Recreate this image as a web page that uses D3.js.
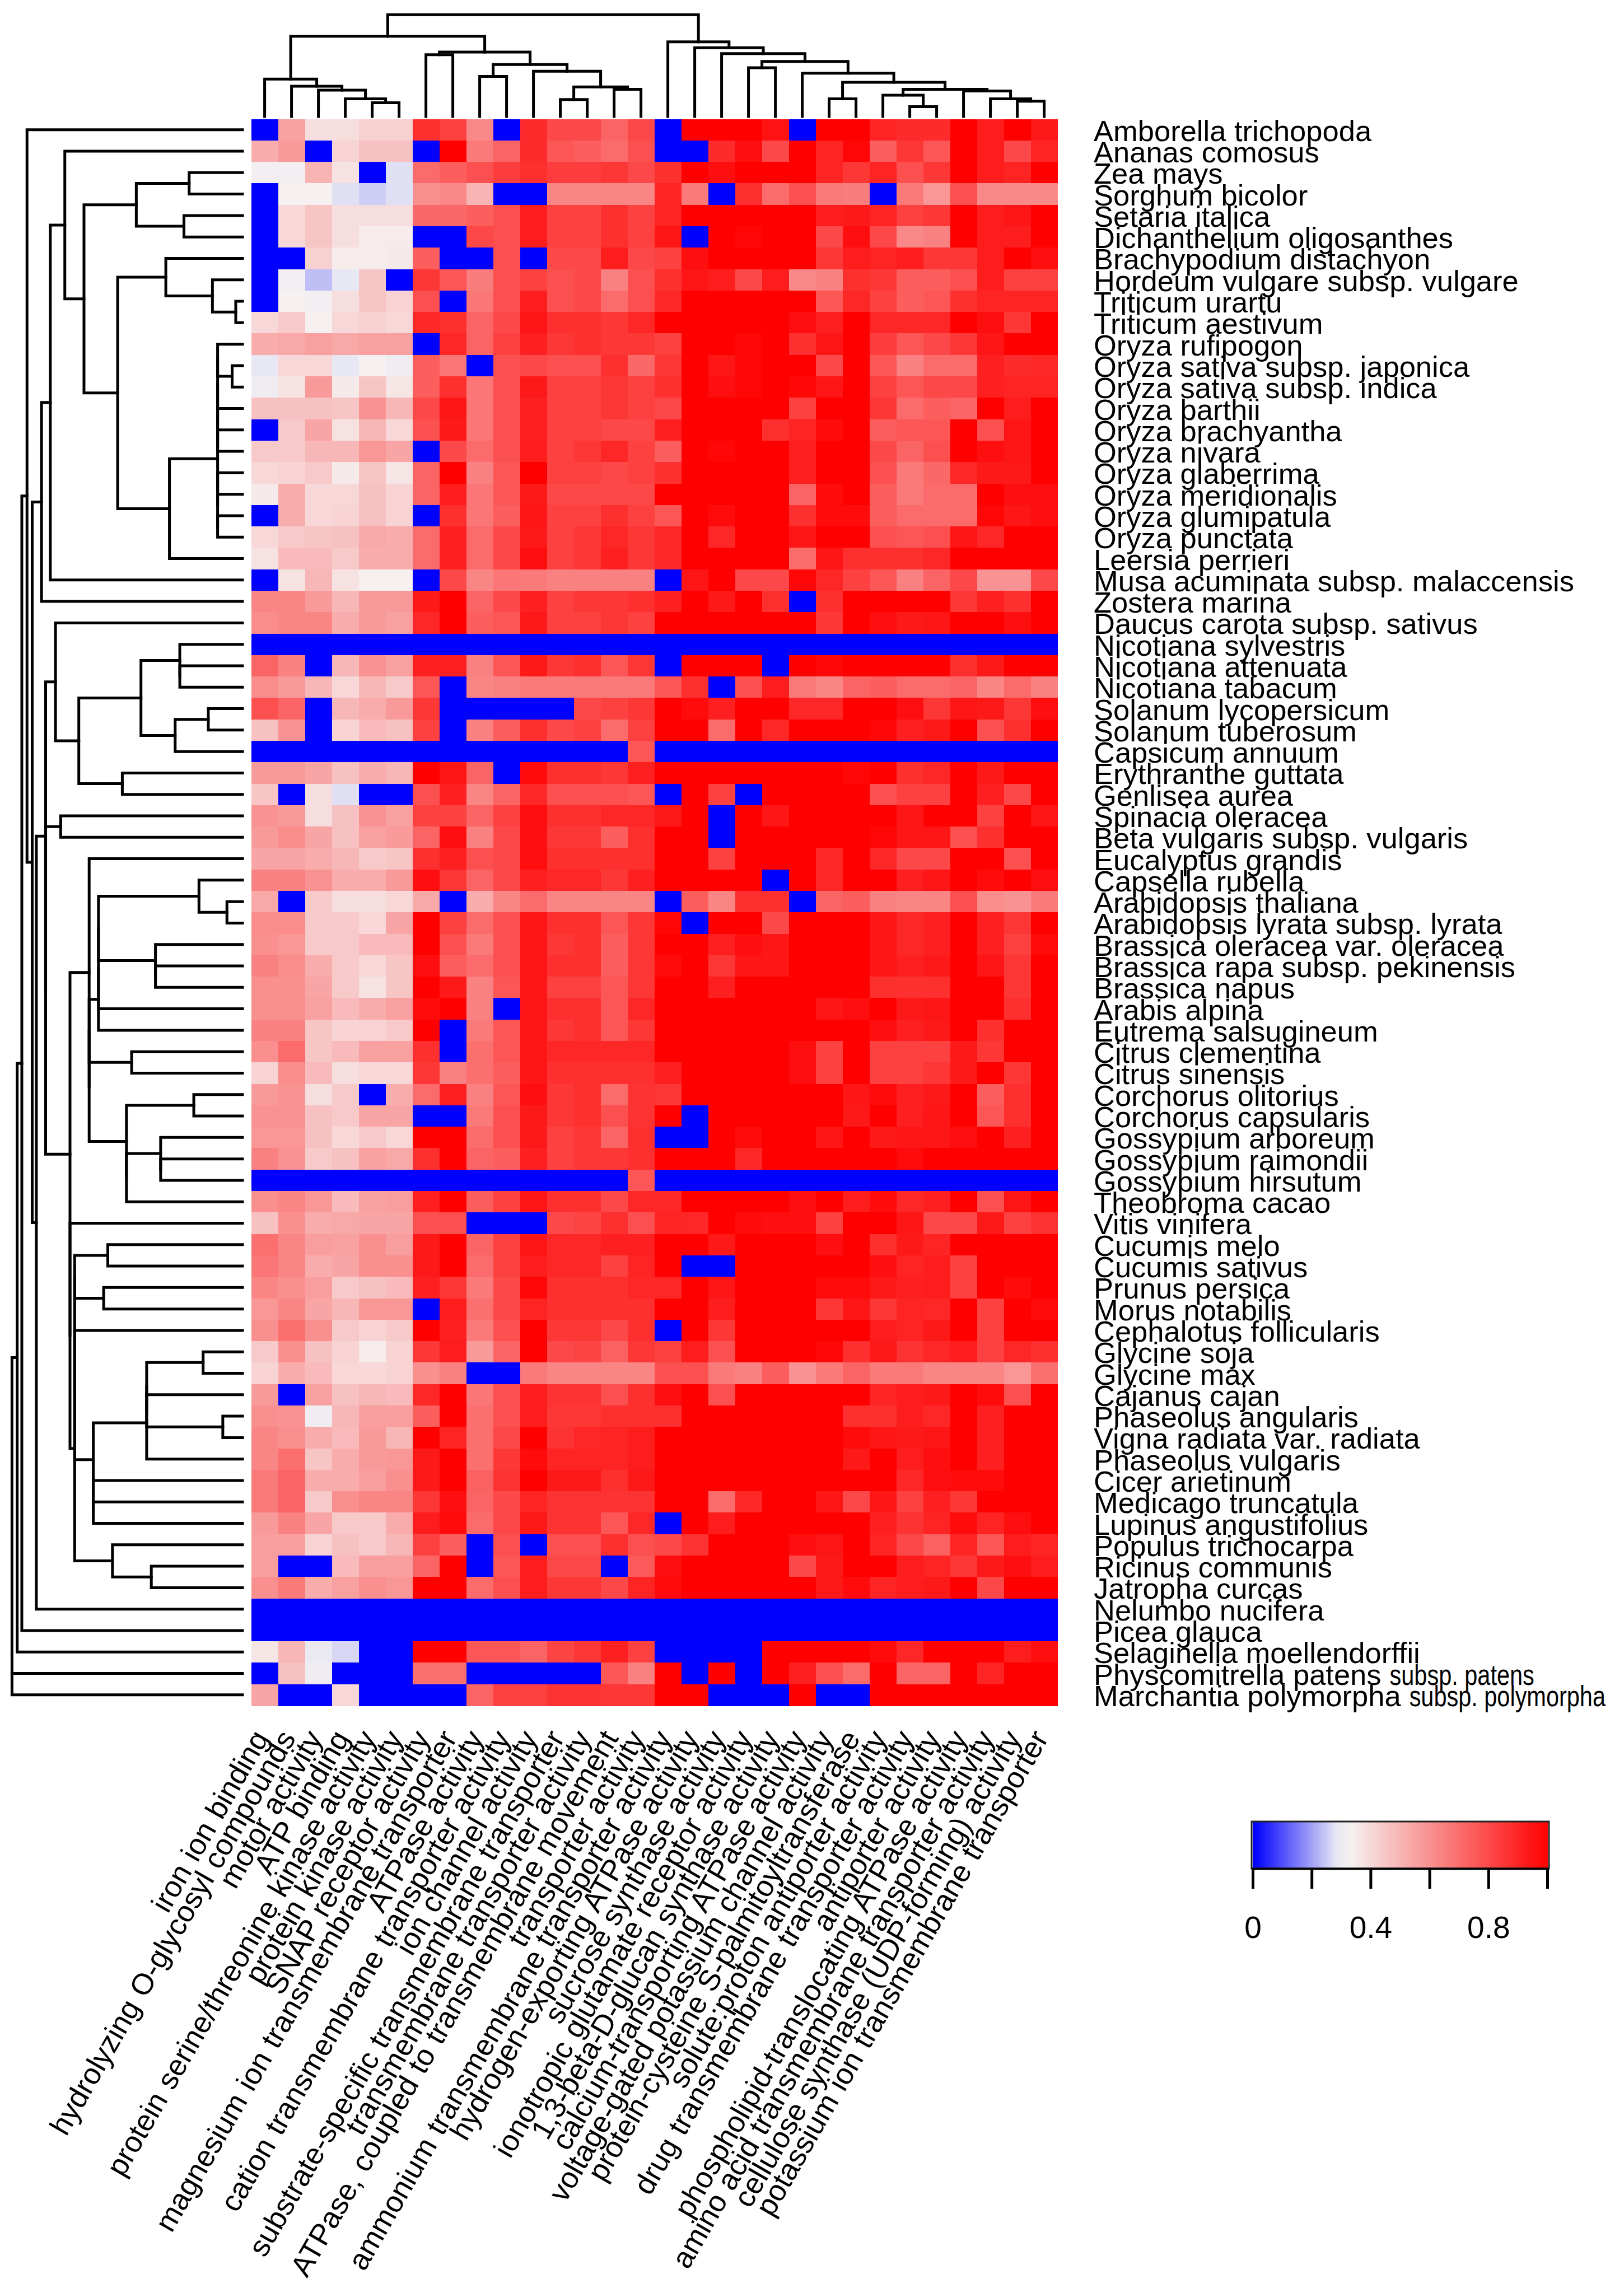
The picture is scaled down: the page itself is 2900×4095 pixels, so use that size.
<!DOCTYPE html>
<html><head><meta charset="utf-8">
<script src="https://cdnjs.cloudflare.com/ajax/libs/d3/7.8.5/d3.min.js"></script>
<style>html,body{margin:0;padding:0;background:#fff}svg{display:block}text{font-family:"Liberation Sans",Arial,sans-serif;fill:#000}</style>
</head><body><div id="chart"></div>
<script>
const species = ["Amborella trichopoda","Ananas comosus","Zea mays","Sorghum bicolor","Setaria italica","Dichanthelium oligosanthes","Brachypodium distachyon","Hordeum vulgare subsp. vulgare","Triticum urartu","Triticum aestivum","Oryza rufipogon","Oryza sativa subsp. japonica","Oryza sativa subsp. indica","Oryza barthii","Oryza brachyantha","Oryza nivara","Oryza glaberrima","Oryza meridionalis","Oryza glumipatula","Oryza punctata","Leersia perrieri","Musa acuminata subsp. malaccensis","Zostera marina","Daucus carota subsp. sativus","Nicotiana sylvestris","Nicotiana attenuata","Nicotiana tabacum","Solanum lycopersicum","Solanum tuberosum","Capsicum annuum","Erythranthe guttata","Genlisea aurea","Spinacia oleracea","Beta vulgaris subsp. vulgaris","Eucalyptus grandis","Capsella rubella","Arabidopsis thaliana","Arabidopsis lyrata subsp. lyrata","Brassica oleracea var. oleracea","Brassica rapa subsp. pekinensis","Brassica napus","Arabis alpina","Eutrema salsugineum","Citrus clementina","Citrus sinensis","Corchorus olitorius","Corchorus capsularis","Gossypium arboreum","Gossypium raimondii","Gossypium hirsutum","Theobroma cacao","Vitis vinifera","Cucumis melo","Cucumis sativus","Prunus persica","Morus notabilis","Cephalotus follicularis","Glycine soja","Glycine max","Cajanus cajan","Phaseolus angularis","Vigna radiata var. radiata","Phaseolus vulgaris","Cicer arietinum","Medicago truncatula","Lupinus angustifolius","Populus trichocarpa","Ricinus communis","Jatropha curcas","Nelumbo nucifera","Picea glauca","Selaginella moellendorffii","Physcomitrella patens subsp. patens","Marchantia polymorpha subsp. polymorpha"];
const condensedSuffix = {"Physcomitrella patens subsp. patens":"subsp. patens","Marchantia polymorpha subsp. polymorpha":"subsp. polymorpha"};
const functions = ["iron ion binding","hydrolyzing O-glycosyl compounds","motor activity","ATP binding","protein serine/threonine kinase activity","protein kinase activity","SNAP receptor activity","magnesium ion transmembrane transporter","ATPase activity","cation transmembrane transporter activity","ion channel activity","substrate-specific transmembrane transporter","transmembrane transporter activity","ATPase, coupled to transmembrane movement","transporter activity","ammonium transmembrane transporter activity","hydrogen-exporting ATPase activity","sucrose synthase activity","ionotropic glutamate receptor activity","1,3-beta-D-glucan synthase activity","calcium-transporting ATPase activity","voltage-gated potassium channel activity","protein-cysteine S-palmitoyltransferase","solute:proton antiporter activity","drug transmembrane transporter activity","antiporter activity","phospholipid-translocating ATPase activity","amino acid transmembrane transporter activity","cellulose synthase (UDP-forming) activity","potassium ion transmembrane transporter"];
const percent = [
[0,55,38,38,42,42,87,82,62,0,88,80,80,72,80,0,100,100,100,95,0,100,100,90,88,88,100,92,100,93],
[52,57,0,41,46,46,0,100,66,72,88,76,74,70,78,0,0,88,96,80,100,90,98,74,85,76,100,92,80,90],
[32,32,50,37,0,27,70,74,78,83,87,83,83,85,80,87,100,96,100,100,100,90,85,90,78,85,100,92,90,100],
[0,33,33,27,25,27,60,62,50,0,0,63,63,63,63,90,66,0,87,70,78,66,65,0,66,58,78,62,62,62],
[0,40,45,38,38,38,71,71,74,78,92,82,82,87,82,90,100,100,100,100,100,92,93,90,82,85,100,92,94,100],
[0,40,45,38,34,34,0,0,80,78,92,82,82,87,82,94,0,100,98,100,100,80,96,80,62,64,100,92,92,100],
[0,0,42,34,34,35,74,0,0,78,0,80,80,92,80,82,96,100,100,100,100,85,92,90,92,85,85,92,100,96],
[0,32,23,28,45,0,85,76,65,78,82,78,80,64,78,87,94,92,80,92,62,64,87,85,74,74,78,92,82,82],
[0,33,32,38,45,41,78,0,67,78,92,78,80,70,78,89,100,100,100,100,100,76,89,82,74,76,87,90,90,90],
[40,44,33,40,42,40,89,87,72,80,94,87,87,85,89,100,100,100,100,100,96,91,100,89,89,89,100,96,85,100],
[52,53,55,53,55,55,0,89,72,82,91,85,87,85,85,82,100,100,98,100,87,94,100,83,76,80,85,94,100,100],
[28,40,40,28,33,31,74,67,0,78,80,78,78,87,71,85,100,94,98,100,100,80,100,76,64,70,70,91,88,89],
[31,37,57,35,45,36,74,87,67,78,93,82,82,85,82,87,100,96,98,100,98,94,100,82,76,80,80,91,90,90],
[46,46,46,45,59,49,80,94,67,78,91,82,82,85,82,80,100,100,100,100,82,100,100,85,70,74,72,100,92,100],
[0,44,54,37,49,40,78,93,67,78,91,82,82,80,80,91,100,100,100,87,90,97,100,74,76,76,100,78,94,100],
[44,44,49,49,58,54,0,80,70,78,92,82,85,89,82,74,100,98,100,100,91,100,100,80,72,78,100,96,94,100],
[40,41,44,35,45,36,72,100,64,76,100,82,82,80,82,87,100,100,100,100,91,100,100,78,66,71,89,93,93,100],
[35,52,40,40,46,41,72,92,67,76,93,80,80,80,80,100,100,100,100,100,72,97,100,74,66,70,70,100,96,96],
[0,52,40,41,46,41,0,87,67,74,94,82,82,87,82,76,100,97,100,100,87,97,97,74,70,70,70,98,94,96],
[40,44,45,46,53,52,70,91,70,80,93,82,85,89,85,89,100,89,100,100,94,100,100,78,76,78,94,89,100,100],
[37,48,48,44,52,52,70,91,70,80,96,82,85,91,85,89,100,100,100,100,70,94,87,87,87,89,100,100,100,100],
[0,37,49,37,33,33,0,80,63,67,66,64,64,64,64,0,94,100,80,80,98,89,82,76,64,72,80,59,59,80],
[63,63,57,49,57,57,93,100,72,80,91,82,85,85,87,91,100,93,100,87,0,87,100,100,100,100,85,91,87,100],
[61,63,63,52,57,55,89,100,74,76,93,82,82,85,82,100,100,100,100,100,100,85,100,96,93,94,100,100,96,100],
[0,0,0,0,0,0,0,0,0,0,0,0,0,0,0,0,0,0,0,0,0,0,0,0,0,0,0,0,0,0],
[72,64,0,49,59,55,91,91,64,76,93,85,87,76,85,0,100,100,100,0,100,98,100,100,100,100,87,93,100,100],
[61,57,49,40,49,44,76,0,63,64,66,66,66,66,66,76,87,0,78,92,66,63,72,74,70,70,72,63,70,64],
[78,72,0,49,52,57,85,0,0,0,0,0,80,82,85,100,97,91,100,100,89,89,100,100,96,85,94,93,85,96],
[46,59,0,41,48,46,82,0,64,74,87,80,82,70,82,100,100,70,100,89,100,100,100,98,91,93,100,78,87,100],
[0,0,0,0,0,0,0,0,0,0,0,0,0,0,76,0,0,0,0,0,0,0,0,0,0,0,0,0,0,0],
[57,57,54,46,52,49,100,94,72,0,97,87,87,85,91,100,100,100,100,100,100,100,98,100,87,89,100,93,100,100],
[45,0,38,27,0,0,78,91,63,72,89,78,78,78,76,0,100,82,0,100,100,100,100,78,82,82,100,91,80,100],
[59,57,38,46,59,55,82,82,72,82,96,87,87,89,89,93,100,0,100,94,100,100,100,100,94,100,100,82,100,94],
[57,61,54,46,55,57,72,96,64,80,96,85,85,74,87,100,100,0,100,100,100,100,100,98,94,94,78,87,100,100],
[54,54,52,49,44,45,87,91,78,80,96,87,87,87,87,100,100,82,100,100,100,89,100,89,80,80,100,100,78,100],
[64,64,59,52,52,57,96,85,72,80,91,89,89,85,91,100,100,100,100,0,100,89,100,100,91,94,100,97,100,96],
[53,0,44,38,38,40,53,0,52,63,70,63,63,63,63,0,74,63,87,87,0,72,74,64,63,63,78,61,59,66],
[61,61,44,44,40,54,100,82,70,78,94,87,87,76,85,98,0,100,100,80,100,100,100,94,89,91,100,91,85,100],
[60,58,44,44,48,48,100,78,66,78,94,85,87,74,85,100,100,91,96,94,100,100,100,94,89,91,100,91,82,97],
[64,61,52,44,40,45,96,74,70,78,94,87,87,74,85,97,100,85,94,94,100,100,100,94,91,93,100,94,85,100],
[60,60,54,44,37,45,100,93,64,76,94,82,82,76,85,100,100,91,100,100,100,100,100,87,87,87,100,100,85,100],
[60,60,55,48,52,55,97,100,64,0,94,87,87,76,89,100,100,100,100,100,100,94,96,100,93,94,100,100,87,100],
[64,64,45,41,41,44,100,0,66,76,94,85,87,76,85,100,100,100,100,100,100,100,100,96,91,93,100,87,100,100],
[60,70,45,48,55,55,87,0,69,76,94,89,89,89,89,100,100,100,100,100,96,82,100,82,82,82,93,85,100,100],
[41,61,48,38,40,40,85,64,69,74,94,87,87,87,87,91,100,100,100,100,96,82,100,82,82,85,93,100,85,100],
[57,59,38,44,0,52,70,91,64,76,96,85,87,70,86,85,100,100,100,100,100,100,94,97,91,93,100,74,87,100],
[59,59,46,44,54,54,0,0,66,78,93,85,87,78,86,100,0,100,100,100,100,100,93,100,91,94,100,76,87,100],
[58,58,46,40,44,40,100,100,70,78,93,82,85,72,87,0,0,100,97,100,100,94,100,93,94,94,96,100,91,100],
[64,59,44,46,55,53,87,100,72,74,91,82,85,85,87,100,100,100,89,100,100,100,100,100,97,100,100,100,100,100],
[0,0,0,0,0,0,0,0,0,0,0,0,0,0,76,0,0,0,0,0,0,0,0,0,0,0,0,0,0,0],
[60,63,58,48,55,56,91,100,74,82,94,87,87,80,89,89,100,100,100,100,96,100,92,97,89,91,100,78,94,100],
[46,60,52,53,54,54,78,78,0,0,0,80,81,87,78,90,89,100,97,96,96,82,100,100,94,80,80,93,82,86],
[69,63,56,55,60,56,93,100,72,82,94,89,89,91,91,100,100,93,100,100,100,96,100,87,93,90,100,100,100,100],
[67,63,52,54,60,60,93,100,70,82,92,89,89,82,90,100,0,0,100,100,100,100,100,96,90,92,82,100,100,100],
[63,60,56,44,46,48,91,85,66,80,98,87,87,87,89,89,100,94,100,100,100,97,97,93,91,92,82,100,97,100],
[58,63,54,49,58,58,0,92,69,80,90,87,87,87,87,100,100,92,100,100,100,85,94,85,90,89,100,82,100,97],
[60,69,60,44,41,44,100,91,66,78,100,85,85,80,87,0,100,85,100,100,100,100,100,92,90,93,100,82,100,100],
[44,60,46,41,34,41,85,92,57,72,100,80,81,73,85,82,92,78,100,100,100,98,87,93,86,89,92,82,89,87],
[41,52,48,40,40,41,60,64,0,0,66,63,63,63,63,78,78,66,64,74,59,66,72,66,66,63,63,63,58,69],
[57,0,55,46,49,48,89,100,67,78,92,86,86,78,87,96,100,78,100,100,100,100,100,90,92,93,100,97,78,100],
[60,59,31,49,56,56,74,100,69,78,92,85,85,87,87,87,100,100,100,100,100,100,87,87,92,89,100,91,100,100],
[63,60,52,48,57,49,100,90,69,80,100,86,89,90,92,100,100,100,100,100,100,100,97,94,93,94,100,91,100,100],
[63,69,45,52,57,58,93,100,69,85,97,90,90,90,92,100,100,100,100,100,100,100,93,100,92,96,100,91,100,100],
[66,72,52,52,56,60,93,100,73,86,100,93,93,87,93,100,100,100,100,100,100,100,100,100,89,96,97,97,100,100],
[66,72,44,60,63,63,85,96,72,80,90,86,86,86,86,100,100,70,89,100,100,94,80,94,82,91,85,100,100,100],
[57,64,54,44,44,52,92,97,70,80,93,86,86,76,89,0,100,92,100,100,100,100,100,91,86,90,97,90,96,100],
[56,56,41,46,44,49,82,74,0,78,0,78,78,87,78,80,86,100,100,100,96,94,100,90,80,73,90,76,92,90],
[56,0,0,48,56,56,72,100,0,76,92,80,80,0,75,96,100,100,100,100,80,93,100,100,92,90,85,93,96,92],
[60,66,52,55,60,58,100,100,70,78,92,85,85,80,90,97,100,100,100,100,100,93,97,90,92,93,100,80,100,100],
[0,0,0,0,0,0,0,0,0,0,0,0,0,0,0,0,0,0,0,0,0,0,0,0,0,0,0,0,0,0],
[0,0,0,0,0,0,0,0,0,0,0,0,0,0,0,0,0,0,0,0,0,0,0,0,0,0,0,0,0,0],
[36,49,29,26,0,0,100,100,76,76,72,81,85,91,82,0,0,0,0,100,100,100,100,97,89,100,100,100,92,96],
[0,46,31,0,0,0,69,69,0,0,0,0,0,76,64,100,0,100,0,100,91,78,70,100,72,72,100,90,100,100],
[54,0,0,40,0,0,0,0,72,82,82,86,86,85,85,100,100,0,0,0,100,0,0,100,100,100,100,100,100,100]
];
/* dendrograms: [mergeHeight, child, child, ...]; a bare number is a row/column index */
const rice = [48,[48,[48,[48,10,[20,11,12]],13],[48,14,15]],[48,[48,16,17],[48,18,19]]];
const monocots = [343,1,[306,[205,[103,2,3],[113,4,5]],[241,[148,6,[58,7,[13,8,9]]],[141,rice,20]]]];
const solanids = [361,23,[316,[196,[121,24,[121,25,26]],[130,[66,27,28],29]],[232,30,31]]];
const rosidsA = [278,[278,[278,[84,35,[30,36,37]],[168,38,[168,39,40]]],41],42];
const malvids = [296,34,[296,[296,rosidsA,[214,43,44]],[224,[94,45,46],[224,[158,47,[158,48,49]],50]]]];
const legumes = [288,[185,[185,[76,57,58],[185,59,[38,60,61]]],62],[288,63,[288,64,65]]];
const fabids = [324,[324,[324,[260,52,53],[268,54,55]],[324,56,legumes]],[251,66,[176,67,68]]];
const rowTree = [445,[435,[426,[416,0,[406,[388,[371,monocots,21],22],[398,[380,solanids,[380,[351,32,33],[333,malvids,[333,51,fabids]]]],69]]],70],71],72,73];
const colA = [95,0,[77,1,[67,2,[45,3,[35,4,5]]]]];
const colB = [164,[157,6,7],[132,[102,8,9],[115,10,[75,[43,11,12],[69,13,14]]]]];
const colC = [87,[45,21,22],[69,[54,23,[25,24,25]],[65,26,[45,27,[39,28,29]]]]];
const colTree = [259,[204,colA,colB],[190,15,[175,16,[160,17,[140,[124,18,19],[110,20,colC]]]]]];
const legendTicks = [0,0.2,0.4,0.6,0.8,1];
const legendLabels = [0,0.4,0.8];

const W=2900,H=4095;
const svg=d3.select("#chart").append("svg").attr("width",W).attr("height",H).attr("viewBox",`0 0 ${W} ${H}`);
svg.append("rect").attr("width",W).attr("height",H).attr("fill","#fff");
const values=percent.map(r=>r.map(v=>v/100));
const x=d3.scaleBand().domain(d3.range(functions.length)).range([448.6,1888.6]);
const y=d3.scaleBand().domain(d3.range(species.length)).range([212.6,3046]);
const color=d3.scaleLinear().domain([0,.28,.33,1]).range(["#0000ff","#e8e8f4","#f6f0f0","#ff0000"]).interpolate(d3.interpolateRgb);

const g=svg.append("g").attr("shape-rendering","crispEdges");
g.selectAll("g").data(values).join("g").selectAll("rect").data((r,i)=>r.map((v,j)=>({v,i,j}))).join("rect")
 .attr("x",d=>x(d.j)).attr("y",d=>y(d.i)).attr("width",x.bandwidth()+.5).attr("height",y.bandwidth()+.5).attr("fill",d=>color(d.v));

/* dendrogram layout */
function layout(spec,leafPos){
  const root=d3.hierarchy(spec,d=>Array.isArray(d)?d.slice(1):null);
  root.eachAfter(n=>{
    if(n.children){n.h=n.data[0];n.pos=(n.children[0].pos+n.children[n.children.length-1].pos)/2;}
    else{n.h=0;n.pos=leafPos(n.data);}
  });
  return root;
}
function drawTree(root,pt){
  const line=d3.line();
  const segs=[];
  root.each(n=>{
    if(!n.children) return;
    const f=n.children[0],l=n.children[n.children.length-1];
    segs.push([pt(f.h,f.pos),pt(n.h,f.pos),pt(n.h,l.pos),pt(l.h,l.pos)]);
    n.children.slice(1,-1).forEach(c=>segs.push([pt(n.h,c.pos),pt(c.h,c.pos)]));
  });
  svg.append("g").selectAll("path").data(segs).join("path").attr("d",line).attr("fill","none").attr("stroke","#000").attr("stroke-width",5).attr("stroke-linejoin","miter").attr("stroke-linecap","square");
}
const rowH=d3.scaleLinear().domain([0,445]).range([433,21.4]);
const colH=d3.scaleLinear().domain([0,259]).range([208,26.2]);
drawTree(layout(rowTree,i=>y(i)+y.bandwidth()/2),(h,p)=>[rowH(h),p]);
drawTree(layout(colTree,j=>x(j)+x.bandwidth()/2),(h,p)=>[p,colH(h)]);

/* row labels */
const rowLab=svg.append("g");
species.forEach((s,i)=>{
  const suffix=condensedSuffix[s];
  const by=y(i)+y.bandwidth()/2+20;
  const t=rowLab.append("text").attr("x",1953).attr("y",by).attr("font-size",52.5).text(suffix?s.slice(0,-suffix.length).trim():s);
  if(suffix){
    const w=t.node().getComputedTextLength();
    rowLab.append("text").attr("transform",`translate(${1953+w+15},${by}) scale(0.79,1)`).attr("font-size",52.5).text(suffix);
  }
});
/* column labels */
svg.append("g").selectAll("text").data(functions).join("text")
 .attr("transform",(d,j)=>`translate(${x(j)+x.bandwidth()/2+9},3104) rotate(-60)`)
 .attr("text-anchor","end").attr("font-size",53).attr("word-spacing",2).text(d=>d);

/* legend */
const lx=d3.scaleLinear().domain([0,1]).range([2237,2763]);
const strips=d3.range(0,1,0.01);
const leg=svg.append("g");
leg.append("g").attr("shape-rendering","crispEdges").selectAll("rect").data(strips).join("rect")
 .attr("x",d=>lx(d)).attr("y",3253).attr("width",lx(.01)-lx(0)+1).attr("height",84).attr("fill",d=>color(d));
leg.append("rect").attr("x",2235).attr("y",3253).attr("width",531).attr("height",84).attr("fill","none").attr("stroke","#222").attr("stroke-width",3);
const axis=d3.axisBottom(lx).tickValues(legendTicks).tickSize(36).tickPadding(49).tickFormat(d=>legendLabels.includes(d)?String(d):"");
const ag=leg.append("g").attr("transform","translate(0,3337)").call(axis);
ag.select(".domain").attr("stroke","#000").attr("stroke-width",4);
ag.selectAll(".tick line").attr("stroke","#000").attr("stroke-width",5);
ag.selectAll(".tick text").attr("font-size",55).attr("font-family",'"Liberation Sans",Arial,sans-serif');
</script></body></html>
